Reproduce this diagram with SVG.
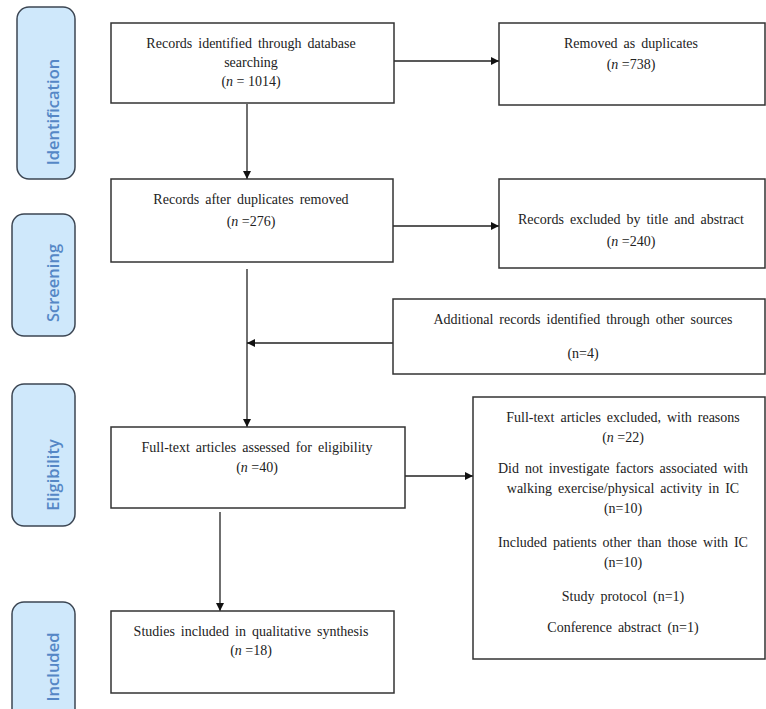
<svg xmlns="http://www.w3.org/2000/svg" width="766" height="709" viewBox="0 0 766 709">
<defs>
<style>
.box{fill:#fff;stroke:#333;stroke-width:1.5}
.pill{fill:#cfe8fb;stroke:#3c4653;stroke-width:1.5}
.pt{font-family:"Open Sans","Noto Sans",sans-serif;font-size:16.5px;font-weight:600;fill:#5587c6;text-anchor:middle}
.t{font-family:"Liberation Serif","Times New Roman",serif;font-size:14px;word-spacing:2.5px;fill:#222;text-anchor:middle}
.t.n{word-spacing:0}
.i{font-style:italic}
.c{stroke:#222;stroke-width:1.3;fill:none}
</style>
<marker id="ah" viewBox="0 0 10 10" refX="10" refY="5" markerWidth="8" markerHeight="8" markerUnits="userSpaceOnUse" orient="auto">
<path d="M0,0 L10,5 L0,10 z" fill="#111"/>
</marker>
</defs>
<rect width="766" height="709" fill="#fff"/>

<g id="stage-identification"><rect class="pill" x="17" y="7" width="58" height="172" rx="12"/><text class="pt" transform="translate(59,112) rotate(-90)">Identification</text></g>
<g id="stage-screening"><rect class="pill" x="12" y="214" width="63" height="122" rx="12"/><text class="pt" transform="translate(59,283) rotate(-90)">Screening</text></g>
<g id="stage-eligibility"><rect class="pill" x="12" y="384" width="63" height="142" rx="12"/><text class="pt" transform="translate(59,475) rotate(-90)">Eligibility</text></g>
<g id="stage-included"><rect class="pill" x="12" y="602" width="63" height="130" rx="12"/><text class="pt" transform="translate(59,667) rotate(-90)">Included</text></g>

<g id="connectors">
<line class="c" x1="247" y1="104" x2="247" y2="179" marker-end="url(#ah)"/>
<line class="c" x1="394" y1="61" x2="499" y2="61" marker-end="url(#ah)"/>
<line class="c" x1="393" y1="226" x2="499" y2="226" marker-end="url(#ah)"/>
<line class="c" x1="247" y1="269" x2="247" y2="427" marker-end="url(#ah)"/>
<line class="c" x1="393" y1="343" x2="247" y2="343" marker-end="url(#ah)"/>
<line class="c" x1="405" y1="476" x2="473" y2="476" marker-end="url(#ah)"/>
<line class="c" x1="220" y1="512" x2="220" y2="611" marker-end="url(#ah)"/>
</g>

<g id="n-identified"><rect class="box" x="111" y="23" width="283" height="80"/>
<text class="t" x="251" y="48">Records identified through database</text>
<text class="t" x="251" y="67">searching</text>
<text class="t n" x="251" y="86">(<tspan class="i">n</tspan> = 1014)</text></g>

<g id="n-duplicates"><rect class="box" x="499" y="23" width="266" height="82"/>
<text class="t" x="631" y="48">Removed as duplicates</text>
<text class="t n" x="631" y="69">(<tspan class="i">n</tspan> =738)</text></g>

<g id="n-after"><rect class="box" x="111" y="179" width="282" height="83"/>
<text class="t" x="251" y="204">Records after duplicates removed</text>
<text class="t n" x="251" y="226">(<tspan class="i">n</tspan> =276)</text></g>

<g id="n-excluded-title"><rect class="box" x="499" y="179" width="266" height="89"/>
<text class="t" x="631" y="224">Records excluded by title and abstract</text>
<text class="t n" x="631" y="246">(<tspan class="i">n</tspan> =240)</text></g>

<g id="n-additional"><rect class="box" x="393" y="299" width="372" height="75"/>
<text class="t" x="583" y="324">Additional records identified through other sources</text>
<text class="t n" x="583" y="358">(n=4)</text></g>

<g id="n-fulltext"><rect class="box" x="111" y="427" width="294" height="81"/>
<text class="t" x="257" y="452">Full-text articles assessed for eligibility</text>
<text class="t n" x="257" y="472">(<tspan class="i">n</tspan> =40)</text></g>

<g id="n-excluded-full"><rect class="box" x="473" y="397" width="292" height="262"/>
<text class="t" x="623" y="422">Full-text articles excluded, with reasons</text>
<text class="t n" x="623" y="442">(<tspan class="i">n</tspan> =22)</text>
<text class="t" x="623" y="473">Did not investigate factors associated with</text>
<text class="t" x="623" y="493">walking exercise/physical activity in IC</text>
<text class="t n" x="623" y="513">(n=10)</text>
<text class="t" x="623" y="547">Included patients other than those with IC</text>
<text class="t n" x="623" y="567">(n=10)</text>
<text class="t" x="623" y="601">Study protocol (n=1)</text>
<text class="t" x="623" y="632">Conference abstract (n=1)</text></g>

<g id="n-included"><rect class="box" x="111" y="611" width="283" height="82"/>
<text class="t" x="251" y="636">Studies included in qualitative synthesis</text>
<text class="t n" x="251" y="655">(<tspan class="i">n</tspan> =18)</text></g>
</svg>
